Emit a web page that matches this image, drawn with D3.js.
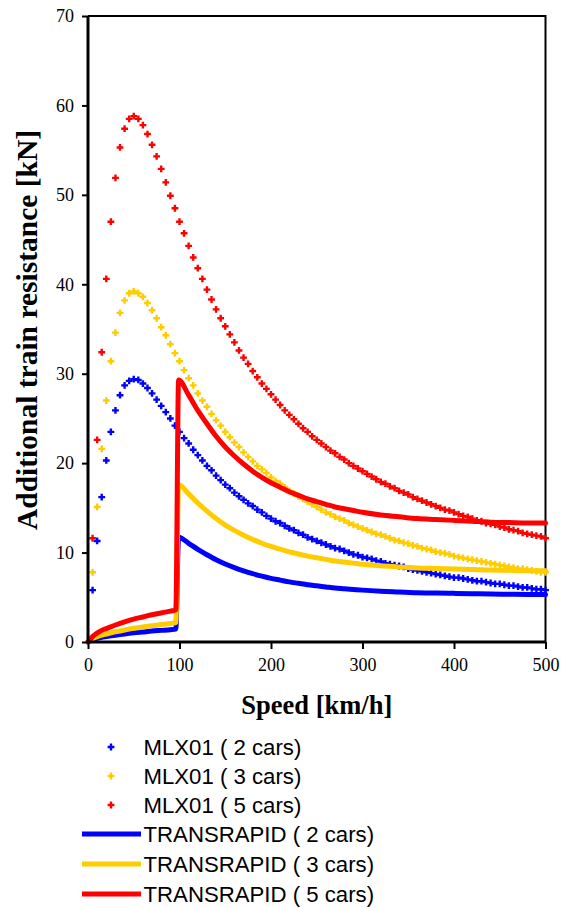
<!DOCTYPE html>
<html>
<head>
<meta charset="utf-8">
<script src="https://cdn.jsdelivr.net/npm/d3@7"></script>
<style>
    body { margin: 0; background: #fff; }
    #chart-area { width: 562px; height: 908px; }
</style>
</head>
<body>
<div id="chart-area"></div>
<script>

// MLX01 markers, one every 5 km/h
const mlxSpeeds = d3.range(5, 505, 5);

const mlx2 = [5.8, 11.3, 16.2, 20.3, 23.5, 25.9, 27.6, 28.7, 29.2, 29.4,
    29.3, 28.9, 28.4, 27.8, 27.1, 26.4, 25.7, 25.0, 24.2, 23.5,
    22.8, 22.2, 21.5, 20.9, 20.3, 19.7, 19.2, 18.6, 18.1, 17.6,
    17.2, 16.7, 16.3, 15.9, 15.5, 15.2, 14.8, 14.5, 14.1, 13.8,
    13.5, 13.3, 13.0, 12.7, 12.5, 12.2, 12.0, 11.7, 11.5, 11.3,
    11.1, 10.9, 10.7, 10.5, 10.4, 10.2, 10.0, 9.8, 9.7, 9.5,
    9.4, 9.3, 9.1, 9.0, 8.8, 8.7, 8.6, 8.5, 8.4, 8.2,
    8.1, 8.0, 7.9, 7.8, 7.7, 7.6, 7.5, 7.4, 7.3, 7.2,
    7.2, 7.1, 7.0, 6.9, 6.8, 6.8, 6.7, 6.6, 6.5, 6.5,
    6.4, 6.3, 6.3, 6.2, 6.1, 6.1, 6.0, 5.9, 5.9, 5.8];

const mlx3 = [7.8, 15.1, 21.6, 27.0, 31.4, 34.6, 36.8, 38.2, 39.0, 39.2,
    39.0, 38.6, 37.9, 37.1, 36.2, 35.2, 34.3, 33.3, 32.3, 31.4,
    30.4, 29.5, 28.7, 27.8, 27.0, 26.3, 25.5, 24.8, 24.2, 23.5,
    22.9, 22.3, 21.8, 21.2, 20.7, 20.2, 19.7, 19.3, 18.9, 18.4,
    18.0, 17.7, 17.3, 16.9, 16.6, 16.3, 16.0, 15.7, 15.4, 15.1,
    14.8, 14.5, 14.3, 14.0, 13.8, 13.6, 13.3, 13.1, 12.9, 12.7,
    12.5, 12.3, 12.1, 12.0, 11.8, 11.6, 11.4, 11.3, 11.1, 11.0,
    10.8, 10.7, 10.5, 10.4, 10.3, 10.1, 10.0, 9.9, 9.8, 9.6,
    9.5, 9.4, 9.3, 9.2, 9.1, 9.0, 8.9, 8.8, 8.7, 8.6,
    8.5, 8.4, 8.3, 8.2, 8.2, 8.1, 8.0, 7.9, 7.8, 7.8];

const mlx5 = [11.6, 22.6, 32.4, 40.6, 47.0, 51.9, 55.3, 57.4, 58.5, 58.8,
    58.5, 57.8, 56.8, 55.6, 54.3, 52.9, 51.4, 49.9, 48.5, 47.0,
    45.7, 44.3, 43.0, 41.8, 40.6, 39.4, 38.3, 37.2, 36.2, 35.3,
    34.4, 33.5, 32.6, 31.8, 31.1, 30.3, 29.6, 28.9, 28.3, 27.7,
    27.1, 26.5, 25.9, 25.4, 24.9, 24.4, 23.9, 23.5, 23.0, 22.6,
    22.2, 21.8, 21.4, 21.1, 20.7, 20.4, 20.0, 19.7, 19.4, 19.1,
    18.8, 18.5, 18.2, 17.9, 17.7, 17.4, 17.2, 16.9, 16.7, 16.5,
    16.2, 16.0, 15.8, 15.6, 15.4, 15.2, 15.0, 14.8, 14.7, 14.5,
    14.3, 14.1, 14.0, 13.8, 13.6, 13.5, 13.3, 13.2, 13.1, 12.9,
    12.8, 12.6, 12.5, 12.4, 12.2, 12.1, 12.0, 11.9, 11.8, 11.6];

// TRANSRAPID curves (jump just below 100 km/h)
const trSpeeds = [0, 5, 10, 15, 20, 30, 40, 50, 60, 70, 80, 90, 96,
    99, 110, 120, 130, 140, 150, 160, 170, 180, 190, 200, 210, 220, 230, 240, 250,
    260, 270, 280, 290, 300, 320, 340, 360, 380, 400, 420, 440, 460, 480, 500];

const tr2 = [0, 0.24, 0.4, 0.52, 0.6, 0.76, 0.9, 1.02, 1.12, 1.22, 1.3, 1.38, 1.44,
    11.72, 11.04, 10.36, 9.76, 9.2, 8.72, 8.32, 7.96, 7.64, 7.36, 7.12, 6.92, 6.72, 6.56, 6.4, 6.28,
    6.16, 6.04, 5.96, 5.88, 5.8, 5.68, 5.6, 5.52, 5.48, 5.44, 5.4, 5.36, 5.34, 5.32, 5.32];

const tr3 = [0, 0.36, 0.6, 0.78, 0.9, 1.14, 1.35, 1.53, 1.68, 1.83, 1.95, 2.07, 2.16,
    17.58, 16.56, 15.54, 14.64, 13.8, 13.08, 12.48, 11.94, 11.46, 11.04, 10.68, 10.38, 10.08, 9.84, 9.6, 9.42,
    9.24, 9.06, 8.94, 8.82, 8.7, 8.52, 8.4, 8.28, 8.22, 8.16, 8.1, 8.04, 8.01, 7.98, 7.98];

const tr5 = [0, 0.6, 1.0, 1.3, 1.5, 1.9, 2.25, 2.55, 2.8, 3.05, 3.25, 3.45, 3.6,
    29.3, 27.6, 25.9, 24.4, 23.0, 21.8, 20.8, 19.9, 19.1, 18.4, 17.8, 17.3, 16.8, 16.4, 16.0, 15.7,
    15.4, 15.1, 14.9, 14.7, 14.5, 14.2, 14.0, 13.8, 13.7, 13.6, 13.5, 13.4, 13.35, 13.3, 13.3];

const xTicks = [0, 100, 200, 300, 400, 500];
const yTicks = [0, 10, 20, 30, 40, 50, 60, 70];

const markerSeries = [
    { name: "MLX01 ( 2 cars)", values: mlx2, color: "#0000ff" },
    { name: "MLX01 ( 3 cars)", values: mlx3, color: "#ffcc00" },
    { name: "MLX01 ( 5 cars)", values: mlx5, color: "#ff0000" }
];
const lineSeries = [
    { name: "TRANSRAPID ( 2 cars)", values: tr2, color: "#0000ff" },
    { name: "TRANSRAPID ( 3 cars)", values: tr3, color: "#ffcc00" },
    { name: "TRANSRAPID ( 5 cars)", values: tr5, color: "#ff0000" }
];

const serif = "'Liberation Serif', 'Times New Roman', serif";
const sans = "'Liberation Sans', Arial, sans-serif";

class ResistanceChart {

    constructor(parentElement) {
        this.parentElement = parentElement;
        this.initVis();
    }

    initVis() {
        let vis = this;

        vis.margin = { top: 16, right: 16.5, bottom: 266, left: 88 };
        vis.width = 562 - vis.margin.left - vis.margin.right;
        vis.height = 908 - vis.margin.top - vis.margin.bottom;

        vis.root = d3.select("#" + vis.parentElement).append("svg")
            .attr("width", 562)
            .attr("height", 908);

        vis.svg = vis.root.append("g")
            .attr("transform", "translate(" + vis.margin.left + "," + vis.margin.top + ")");

        // Scales
        vis.x = d3.scaleLinear().domain([0, 500]).range([0, vis.width]);
        vis.y = d3.scaleLinear().domain([0, 70]).range([vis.height, 0]);

        // Plot area frame (top + right)
        vis.svg.append("path")
            .attr("d", "M0,0H" + vis.width + "V" + vis.height)
            .attr("fill", "none")
            .attr("stroke", "#000")
            .attr("stroke-width", 2);

        // Axes
        vis.xAxis = d3.axisBottom(vis.x).tickValues(xTicks).tickSize(7).tickPadding(9);
        vis.yAxis = d3.axisLeft(vis.y).tickValues(yTicks).tickSize(6).tickPadding(8);

        vis.updateVis();
    }

    updateVis() {
        let vis = this;

        // MLX01 plus markers
        const plus = "M-3.4,0H3.4M0,-3.4V3.4";
        markerSeries.forEach(s => {
            vis.svg.append("g")
                .selectAll("path")
                .data(s.values.map((v, i) => [mlxSpeeds[i], v]))
                .join("path")
                .attr("transform", d => "translate(" + vis.x(d[0]) + "," + vis.y(d[1]) + ")")
                .attr("d", plus)
                .attr("stroke", s.color)
                .attr("stroke-width", 2.4)
                .attr("fill", "none");
        });

        // TRANSRAPID lines
        const line = d3.line()
            .x(d => vis.x(d[0]))
            .y(d => vis.y(d[1]))
            .curve(d3.curveMonotoneX);

        lineSeries.forEach(s => {
            vis.svg.append("path")
                .datum(s.values.map((v, i) => [trSpeeds[i], v]))
                .attr("d", line)
                .attr("fill", "none")
                .attr("stroke", s.color)
                .attr("stroke-width", 5)
                .attr("stroke-linejoin", "round")
                .attr("stroke-linecap", "round");
        });

        // Axes drawn on top
        const gx = vis.svg.append("g")
            .attr("transform", "translate(0," + vis.height + ")")
            .call(vis.xAxis);
        const gy = vis.svg.append("g").call(vis.yAxis);

        [gx, gy].forEach(g => {
            g.attr("font-family", serif).attr("font-size", 18);
            g.select(".domain").attr("stroke-width", 3).attr("stroke", "#000");
            g.selectAll(".tick line").attr("stroke-width", 2).attr("stroke", "#000");
            g.selectAll(".tick text")
                .attr("fill", "#000")
                .attr("font-family", serif)
                .attr("font-size", 18);
        });
        gx.select(".domain").attr("d", "M0,0H" + vis.width);
        gy.select(".domain").attr("d", "M0," + vis.height + "V0");

        // Axis titles
        vis.svg.append("text")
            .attr("x", vis.width / 2)
            .attr("y", vis.height + 72)
            .attr("text-anchor", "middle")
            .attr("font-family", serif)
            .attr("font-weight", "bold")
            .attr("font-size", 26.5)
            .text("Speed [km/h]");

        vis.svg.append("text")
            .attr("transform", "rotate(-90)")
            .attr("x", -314)
            .attr("y", -51)
            .attr("text-anchor", "middle")
            .attr("font-family", serif)
            .attr("font-weight", "bold")
            .attr("font-size", 29.5)
            .text("Additional train resistance [kN]");

        // Legend
        const legend = vis.root.append("g");
        const rowY = [747, 776, 805, 834, 864, 894];

        markerSeries.forEach((s, i) => {
            legend.append("path")
                .attr("transform", "translate(111," + rowY[i] + ")")
                .attr("d", plus)
                .attr("stroke", s.color)
                .attr("stroke-width", 2.4);
            legend.append("text")
                .attr("x", 143.5)
                .attr("y", rowY[i])
                .attr("dy", "0.36em")
                .attr("font-family", sans)
                .attr("font-size", 22.2)
                .text(s.name);
        });

        lineSeries.forEach((s, i) => {
            legend.append("line")
                .attr("x1", 82).attr("x2", 141)
                .attr("y1", rowY[i + 3]).attr("y2", rowY[i + 3])
                .attr("stroke", s.color)
                .attr("stroke-width", 5);
            legend.append("text")
                .attr("x", 143.5)
                .attr("y", rowY[i + 3])
                .attr("dy", "0.36em")
                .attr("font-family", sans)
                .attr("font-size", 22.2)
                .text(s.name);
        });
    }
}

new ResistanceChart("chart-area");

</script>
</body>
</html>
